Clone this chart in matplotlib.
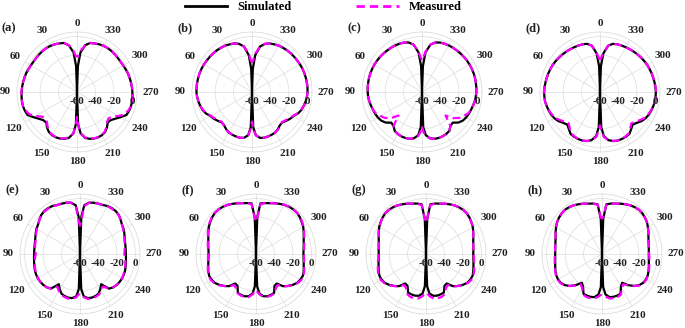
import numpy as np
import matplotlib
matplotlib.use("Agg")
import matplotlib.pyplot as plt
from matplotlib.lines import Line2D
from matplotlib.transforms import ScaledTranslation

# half pattern angles (deg), mirrored to 180..360
ANG = [0, 2, 5, 10, 15, 20, 25, 30, 35, 40, 45, 50, 55, 60, 65, 70, 75, 80, 85, 90,
       95, 100, 105, 110, 115, 120, 125, 130, 135, 140, 145, 150, 155, 160, 165, 170,
       175, 178, 180]

sim_a = [-60, -32, -17, -8.5, -5, -4, -3, -2.3, -2, -2, -2.2, -2.4, -2.5, -2.3, -1.8, -1.3, -1, -0.6, -0.3, 0,
         0.3, 0.5, 0.5, 0, -1, -5.5, -9.5, -12.5, -13, -9.5, -7, -6, -5.8, -6.3, -7.5, -9.5, -15, -25, -60]
meas_a = [-22, -21, -15, -8.5, -5, -4, -3, -2.3, -2, -2, -2.2, -2.4, -2.5, -2.3, -1.8, -1.3, -1, -0.6, -0.2, 0.3,
          0.5, 0.5, 0.5, -1, -3, -8, -13.5, -15.5, -14, -10.5, -7.5, -6.5, -6, -6.5, -8, -10, -15, -24, -33]

sim_b = [-60, -35, -20, -10, -6, -4, -3, -2, -1.5, -1, -0.7, -0.5, -0.3, 0, 0.2, 0.3, 0.3, 0.3, 0.3, 0.2,
         -0.3, -1, -2, -3, -5, -8, -9.5, -11.5, -13.5, -13, -11, -9.5, -9, -8.8, -8.7, -9.5, -13, -22, -60]
meas_b = [-28, -26, -18, -10, -6, -4, -3, -2, -1.5, -1, -0.7, -0.5, -0.3, 0, 0.2, 0.3, 0.3, 0.3, 0.3, 0.2,
          -0.3, -1, -2, -3.5, -5.5, -8.5, -10.5, -12.5, -14, -12.5, -10.5, -9.5, -9, -8.8, -8.7, -9.5, -13, -20, -28]

sim_c = [-60, -32, -17, -8, -4.5, -3, -2.3, -1.8, -1.5, -1.3, -1, -0.8, -0.6, -0.5, -0.5, -0.5, -0.6, -0.8, -1, -1.2,
         -1.5, -2, -2.8, -3.5, -4, -4.8, -6, -8.5, -13, -12, -8.5, -7.5, -7, -7, -7.5, -9, -13, -22, -60]
meas_c = [-25, -23, -16, -8, -4.5, -3, -2.3, -1.8, -1.5, -1.3, -1, -0.8, -0.6, -0.5, -0.5, -0.5, -0.6, -0.8, -1, -1.2,
          -1.5, -2, -2.8, -3.5, -5, -8, -11, -16, -24, -12, -8.5, -7.5, -7, -7, -7.5, -9, -12, -17, -23]

sim_d = [-60, -32, -18, -9, -6, -5, -4.5, -4, -3.5, -3, -2.5, -2, -1.5, -1, -0.8, -0.5, -0.3, 0, 0.3, 0.5,
         0.5, 0.3, -0.3, -1, -1.8, -3, -5, -8, -10, -7.5, -4.5, -4, -3.8, -4, -5, -7, -12, -22, -60]
meas_d = [-25, -23, -17, -9, -6, -5, -4.5, -4, -3.5, -3, -2.5, -2, -1.5, -1, -0.8, -0.5, -0.3, 0, 0.5, 0.8,
          0.8, 0.5, -0.3, -1.2, -2.5, -4, -7, -10, -12, -9, -5.5, -4.5, -4, -4, -5, -7, -11, -18, -24]

sim_e = [-60, -20, -7, -3.5, -2.5, -2, -1.5, 0, 0.5, 0.5, -0.5, -2.5, -4.5, -5.5, -7, -8.5, -9.5, -10, -10.3, -10.3,
         -10, -9.5, -8.8, -8, -7.5, -7.3, -7.5, -8, -9, -11, -20, -16, -12.5, -11.5, -11, -11.5, -14, -22, -60]
meas_e = [-30, -25, -8, -3.5, -2.5, -2, -1.5, -0.3, 0, 0, -0.5, -2.5, -4.5, -6, -7.5, -9, -10, -10.5, -11.5, -12,
          -11, -10, -9.3, -8.5, -8, -7.5, -7.5, -8, -9, -11, -17, -14, -11.5, -10.5, -10, -10.5, -13, -16, -17]

sim_f = [-60, -20, -5, -4, -3, -1.5, 0, 1.5, 2.5, 3, 3, 2, 0.5, -1, -3, -5, -6.5, -7.5, -8.3, -8.6,
         -8.3, -7.5, -6.5, -5, -4, -4.5, -5.5, -8, -11, -14.5, -21, -20, -13.5, -12.8, -12.6, -13.5, -17, -25, -60]
meas_f = [-23, -21, -6, -4, -3, -1.5, 0, 1.5, 2.5, 3, 3, 2.5, 1, -0.5, -2.5, -4.5, -6, -7, -7.8, -8,
          -7.8, -7, -6, -4.5, -3.5, -3.5, -5, -7.5, -11, -14, -19, -17, -13, -12, -12, -12.5, -16, -19, -21]

sim_g = [-60, -22, -6, -4.5, -3.5, -2, -0.5, 1, 2, 2.5, 2.5, 1.5, 0, -1.5, -3.5, -5.5, -7, -8, -8.5, -8.8,
         -8.5, -7.8, -6.8, -5.5, -4.3, -4.5, -5.5, -8, -11, -14.5, -21, -20, -14, -13.5, -13.3, -14, -17, -25, -60]
meas_g = [-24, -22, -7, -4.5, -3.5, -2, -0.5, 1, 2, 2.5, 2.5, 1.5, 0, -1.5, -3.5, -5.5, -7, -8, -8.5, -8.5,
          -8, -7, -6, -4.5, -3.5, -3.5, -5, -7.5, -11, -14, -19, -17, -12, -10.5, -10.5, -11, -14, -17, -18]

sim_h = [-60, -22, -6, -4.5, -3.5, -2, -0.5, 1, 2, 2.5, 2, 1, -0.5, -2.5, -4.5, -6.5, -7.8, -8.6, -9.1, -9.3,
         -9.1, -8.5, -7.5, -6.3, -5.3, -5, -5.5, -7.5, -11, -16, -22, -19, -12.5, -12, -12, -12.5, -16, -24, -60]
meas_h = [-22, -20, -6.5, -4.5, -3.5, -2, -0.5, 1, 2, 2.5, 2, 1, -0.5, -2.5, -4.5, -6.5, -7.8, -8.6, -9, -9,
          -8.5, -8, -7, -6, -5, -4.5, -5, -7, -11, -15.5, -20, -17, -11.5, -10.5, -10.5, -11, -13.5, -15.5, -16]

labels = ["(a)", "(b)", "(c)", "(d)", "(e)", "(f)", "(g)", "(h)"]
sims = [sim_a, sim_b, sim_c, sim_d, sim_e, sim_f, sim_g, sim_h]
meas = [meas_a, meas_b, meas_c, meas_d, meas_e, meas_f, meas_g, meas_h]

theta_ticks = list(range(0, 360, 30))
r_ticks = [-60, -40, -20, 0]

# layout in pixels
W, H, DPI = 685, 328, 100
R = 60
RMIN, RMAX = -60, 5
centers = [(77, 92), (252, 92), (422, 92), (600, 92),
           (80, 254), (256, 254), (426, 254), (602, 254)]

plt.rcParams["font.family"] = ["Liberation Serif", "DejaVu Serif"]
plt.rcParams["font.weight"] = "bold"

MAG = "#ff00ff"
GRID = "#dcdcdc"
TXT = "#222"


def mirror(ang, vals):
    th = list(ang) + [360 - a for a in reversed(ang[:-1])]
    v = list(vals) + list(reversed(vals[:-1]))
    return np.radians(th), np.array(v, dtype=float)


def px_to_r(d):
    return RMIN + d / R * (RMAX - RMIN)


fig = plt.figure(figsize=(W / DPI, H / DPI), dpi=DPI, facecolor="white")

for lbl, s, m, (cx, cy) in zip(labels, sims, meas, centers):
    ax = fig.add_axes([(cx - R) / W, (H - cy - R) / H, 2 * R / W, 2 * R / H],
                      projection="polar")
    ax.set_theta_zero_location("N")
    ax.set_theta_direction(1)
    ax.set_ylim(RMIN, RMAX)
    ax.set_yticks([-40, -20, 0])
    ax.set_yticklabels([])
    ax.set_xticks(np.radians(theta_ticks))
    ax.set_xticklabels([])
    ax.tick_params(length=0)
    ax.grid(color=GRID, linewidth=0.5)
    ax.spines["polar"].set_color(GRID)
    ax.spines["polar"].set_linewidth(0.6)

    th, v = mirror(ANG, s)
    ax.plot(th, v, color="black", lw=1.6, zorder=3)
    th, v = mirror(ANG, m)
    ax.plot(th, v, color=MAG, lw=1.6, dashes=(3.5, 2), zorder=4)

    # angle labels around the rim
    for t in theta_ticks:
        sn = abs(np.sin(np.radians(t)))
        d = 69 + 3 * sn + (len(str(t)) - 2) * 1.5 * sn
        ax.text(np.radians(t), px_to_r(d), str(t), ha="center", va="center",
                fontsize=8, color=TXT, clip_on=False)

    # radial labels sit just under the 270 spoke
    off = ax.transData + ScaledTranslation(0, -0.10, fig.dpi_scale_trans)
    for r in r_ticks:
        ax.text(np.radians(270), r, str(r), transform=off, ha="center", va="center",
                fontsize=8, color=TXT, zorder=5)

    fig.text((cx - 75) / W, 1 - (cy - 64) / H, lbl, ha="left", va="center",
             fontsize=9, color=TXT)

handles = [Line2D([], [], color="black", lw=2),
           Line2D([], [], color=MAG, lw=2, dashes=(3, 1.8))]
fig.legend(handles, ["Simulated", "Measured"], loc="upper center",
           bbox_to_anchor=(0.472, 1.03), ncol=2, frameon=False,
           handlelength=3.4, columnspacing=5.2, fontsize=9, handletextpad=0.8)

fig.savefig("out.png", dpi=DPI, facecolor="white")
